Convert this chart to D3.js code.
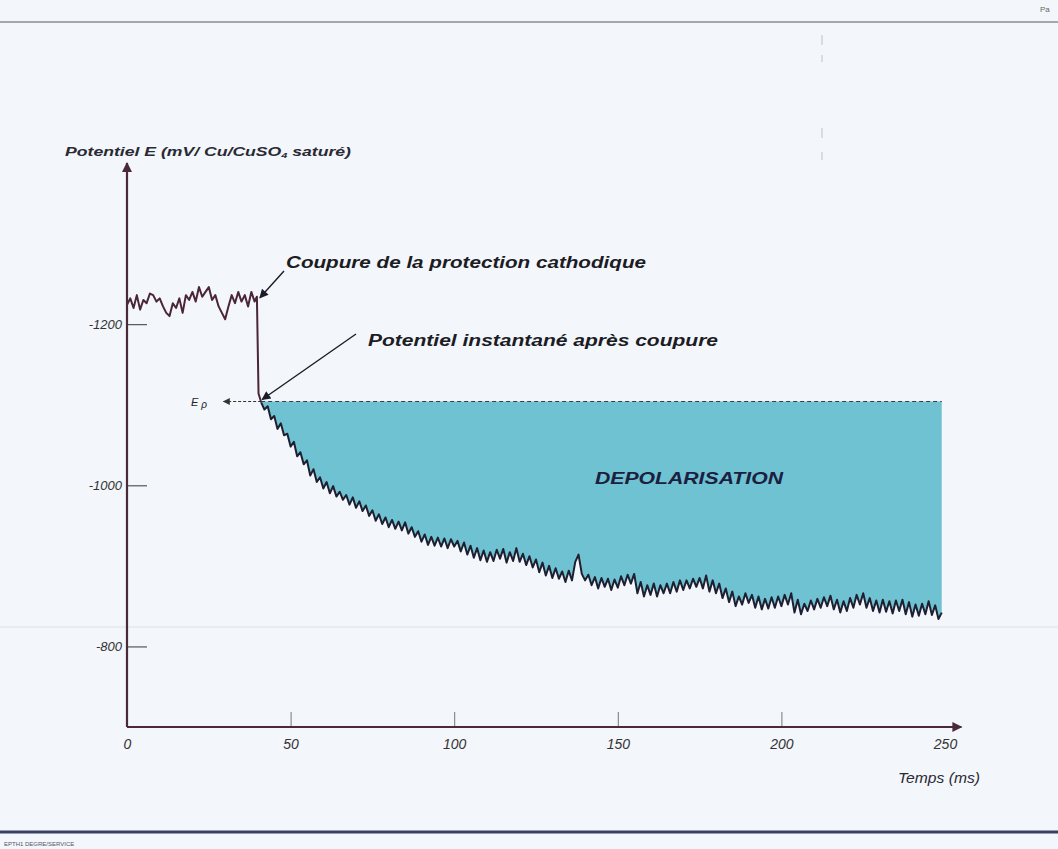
<!DOCTYPE html>
<html><head><meta charset="utf-8">
<script src="https://cdn.jsdelivr.net/npm/d3@7"></script>
<style>
html,body{margin:0;padding:0;background:#f3f6fb;}
svg{display:block;}
text{font-family:"Liberation Sans",Arial,sans-serif;}
</style></head><body>
<svg id="c" width="1058" height="849"></svg>
<script>
// ---- data ----
const xTicks = [0, 50, 100, 150, 200, 250];
const yTicks = [-1200, -1000, -800];
const epLevel = -1104;           // instantaneous potential after cut-off (Ep)
const cutoffTime = 40;
const preCutoff = [
 [0,-1224],[1,-1232],[2,-1220],[3,-1236],[4,-1218],[5,-1230],[6,-1226],[7,-1238],[8,-1236],[9,-1228],
 [10,-1232],[11,-1222],[12,-1214],[13,-1210],[14,-1226],[15,-1220],[16,-1232],[17,-1214],[18,-1236],[19,-1230],
 [20,-1240],[21,-1228],[22,-1246],[23,-1234],[24,-1240],[25,-1246],[26,-1230],[27,-1236],[28,-1222],[29,-1214],
 [30,-1206],[31,-1222],[32,-1236],[33,-1226],[34,-1240],[35,-1228],[36,-1236],[37,-1222],[38,-1240],[39,-1228],
 [39.7,-1234],[40.2,-1114],[41,-1103]
];
const decay = [
 [41,-1103],[42,-1094],[43,-1098],[44,-1082],[45,-1086],[46,-1070],[47,-1077],[48,-1062],[49,-1064],[50,-1048],
 [51,-1054],[52,-1036],[53,-1041],[54,-1026],[55,-1031],[56,-1012],[57,-1020],[58,-1004],[59,-1010],[60,-996],
 [61,-1004],[62,-990],[63,-999],[64,-986],[65,-992],[66,-982],[67,-988],[68,-976],[69,-985],[70,-972],
 [71,-980],[72,-968],[73,-975],[74,-962],[75,-969],[76,-956],[77,-964],[78,-952],[79,-960],[80,-948],
 [81,-957],[82,-946],[83,-955],[84,-944],[85,-954],[86,-940],[87,-948],[88,-936],[89,-943],[90,-930],
 [91,-939],[92,-926],[93,-936],[94,-925],[95,-935],[96,-924],[97,-934],[98,-922],[99,-933],[100,-924],
 [101,-931],[102,-918],[103,-929],[104,-914],[105,-925],[106,-910],[107,-922],[108,-907],[109,-919],[110,-905],
 [111,-917],[112,-906],[113,-920],[114,-909],[115,-921],[116,-904],[117,-917],[118,-906],[119,-922],[120,-905],
 [121,-915],[122,-901],[123,-912],[124,-898],[125,-908],[126,-892],[127,-904],[128,-888],[129,-900],[130,-885],
 [131,-897],[132,-884],[133,-893],[134,-880],[135,-894],[136,-882],[137,-905],[138,-914],[139,-890],[140,-882],
 [141,-889],[142,-876],[143,-886],[144,-872],[145,-885],[146,-874],[147,-884],[148,-870],[149,-883],[150,-873],
 [151,-887],[152,-876],[153,-889],[154,-878],[155,-890],[156,-866],[157,-880],[158,-862],[159,-876],[160,-864],
 [161,-878],[162,-862],[163,-876],[164,-866],[165,-878],[166,-866],[167,-880],[168,-868],[169,-882],[170,-870],
 [171,-882],[172,-872],[173,-884],[174,-874],[175,-885],[176,-872],[177,-888],[178,-868],[179,-882],[180,-866],
 [181,-878],[182,-860],[183,-872],[184,-855],[185,-868],[186,-850],[187,-862],[188,-852],[189,-866],[190,-854],
 [191,-864],[192,-848],[193,-862],[194,-846],[195,-859],[196,-847],[197,-861],[198,-848],[199,-862],[200,-850],
 [201,-864],[202,-852],[203,-866],[204,-842],[205,-858],[206,-840],[207,-853],[208,-844],[209,-857],[210,-846],
 [211,-859],[212,-848],[213,-861],[214,-850],[215,-863],[216,-846],[217,-858],[218,-842],[219,-856],[220,-844],
 [221,-860],[222,-848],[223,-864],[224,-852],[225,-866],[226,-848],[227,-860],[228,-844],[229,-857],[230,-842],
 [231,-858],[232,-843],[233,-856],[234,-841],[235,-857],[236,-844],[237,-858],[238,-840],[239,-855],[240,-837],
 [241,-852],[242,-838],[243,-853],[244,-840],[245,-856],[246,-839],[247,-851],[248,-834],[249,-842]
];

// ---- drawing ----
const svg = d3.select("#c");
const x = d3.scaleLinear().domain([0, 250]).range([127, 945]);
const y = d3.scaleLinear().domain([-700, -1400]).range([727, 163]);
const axisColor = "#4a2a38";

// page decorations
svg.append("line").attr("x1",0).attr("x2",1058).attr("y1",22).attr("y2",22).attr("stroke","#8a8d96").attr("stroke-width",1.5);
svg.append("text").attr("x",1040).attr("y",12).attr("font-size",8).attr("fill","#666").text("Pa");
svg.append("line").attr("x1",0).attr("x2",1058).attr("y1",627).attr("y2",627).attr("stroke","#dde2ea").attr("stroke-width",1);
svg.append("line").attr("x1",0).attr("x2",1058).attr("y1",832).attr("y2",832).attr("stroke","#3a3f68").attr("stroke-width",3);
svg.append("text").attr("x",4).attr("y",846).attr("font-size",6).attr("fill","#556").text("EPTH1 DEGRE/SERVICE");
[[822,35,45],[822,55,62],[822,128,138],[822,152,160]].forEach(s=>{
  svg.append("line").attr("x1",s[0]).attr("x2",s[0]).attr("y1",s[1]).attr("y2",s[2]).attr("stroke","#cfd2da").attr("stroke-width",1.5);
});

const defs = svg.append("defs");
function marker(id, color, w, h){
  defs.append("marker").attr("id",id).attr("viewBox","0 0 10 10").attr("refX",9).attr("refY",5)
   .attr("markerWidth",w).attr("markerHeight",h).attr("orient","auto").attr("markerUnits","userSpaceOnUse")
   .append("path").attr("d","M0,0L10,5L0,10Z").attr("fill",color);
}
marker("axArrow", axisColor, 14, 10);
marker("annArrow", "#1c1c28", 12, 9);
marker("epArrow", "#333", 9, 7);

// depolarisation area
const area = d3.area().x(d=>x(d[0])).y0(y(epLevel)).y1(d=>y(d[1]));
svg.append("path").datum(decay).attr("d",area).attr("fill","#6fc2d1");

// Ep dashed line
svg.append("line").attr("x1",x(41)).attr("x2",x(249)).attr("y1",y(epLevel)).attr("y2",y(epLevel))
  .attr("stroke","#3a3a44").attr("stroke-width",1).attr("stroke-dasharray","4,3");
svg.append("line").attr("x1",x(41)).attr("x2",x(29.5)).attr("y1",y(epLevel)).attr("y2",y(epLevel))
  .attr("stroke","#333").attr("stroke-width",1.2).attr("stroke-dasharray","3,2").attr("marker-end","url(#epArrow)");
const epT = svg.append("text").attr("x",191).attr("y",y(epLevel)+5).attr("font-size",11).attr("font-style","italic").attr("fill","#222");
epT.append("tspan").text("E");
epT.append("tspan").attr("dx",3).attr("dy",2).attr("font-size",10).text("ρ");

// axes
const yAxis = d3.axisLeft(y).tickValues(yTicks).tickFormat(d=>String(d)).tickSize(0).tickPadding(5);
const gy = svg.append("g").attr("transform",`translate(${x(0)},0)`).call(yAxis);
gy.select(".domain").remove();
gy.selectAll("text").attr("font-size",13).attr("font-style","italic").attr("fill","#333").attr("font-family","Liberation Sans, Arial, sans-serif");
gy.selectAll(".tick").append("line").attr("x1",0).attr("x2",20).attr("stroke","#555").attr("stroke-width",1.2);

const xAxis = d3.axisBottom(x).tickValues(xTicks).tickFormat(d=>String(d)).tickSize(0).tickPadding(12);
const gx = svg.append("g").attr("transform",`translate(0,${y(-700)})`).call(xAxis);
gx.select(".domain").remove();
gx.selectAll("text").attr("font-size",14).attr("font-style","italic").attr("fill","#333").attr("font-family","Liberation Sans, Arial, sans-serif");
gx.selectAll(".tick").filter(d=>d>0 && d<250).append("line").attr("y1",0).attr("y2",-15).attr("stroke","#777").attr("stroke-width",1);

svg.append("line").attr("x1",x(0)).attr("x2",x(0)).attr("y1",y(-700)).attr("y2",y(-1400))
  .attr("stroke",axisColor).attr("stroke-width",2.2).attr("marker-end","url(#axArrow)");
svg.append("line").attr("x1",x(0)).attr("x2",x(255)).attr("y1",y(-700)).attr("y2",y(-700))
  .attr("stroke",axisColor).attr("stroke-width",2.2).attr("marker-end","url(#axArrow)");

// curves
const line = d3.line().x(d=>x(d[0])).y(d=>y(d[1]));
svg.append("path").datum(preCutoff).attr("d",line).attr("fill","none").attr("stroke","#4a2636").attr("stroke-width",2).attr("stroke-linejoin","round");
svg.append("path").datum(decay).attr("d",line).attr("fill","none").attr("stroke","#1e1f30").attr("stroke-width",2).attr("stroke-linejoin","round");

// labels
const yt = svg.append("text").attr("x",65).attr("y",156).attr("font-size",13).attr("font-style","italic").attr("font-weight","bold").attr("fill","#2a2a33")
  .attr("textLength",286).attr("lengthAdjust","spacingAndGlyphs");
yt.append("tspan").text("Potentiel E (mV/ Cu/CuSO");
yt.append("tspan").attr("font-size",8).attr("dy",2).text("4");
yt.append("tspan").attr("dy",-2).text(" saturé)");
svg.append("text").attr("x",898).attr("y",783).attr("font-size",14.5).attr("font-style","italic").attr("fill","#2a2a33")
  .attr("textLength",82).attr("lengthAdjust","spacingAndGlyphs").text("Temps (ms)");

svg.append("text").attr("x",286).attr("y",268).attr("font-size",17).attr("font-style","italic").attr("font-weight","bold").attr("fill","#1c1c24")
  .attr("textLength",360).attr("lengthAdjust","spacingAndGlyphs").text("Coupure de la protection cathodique");
svg.append("line").attr("x1",284).attr("y1",271).attr("x2",x(cutoffTime)+2).attr("y2",y(-1234)+1).attr("stroke","#1c1c28").attr("stroke-width",1.4).attr("marker-end","url(#annArrow)");

svg.append("text").attr("x",368).attr("y",346).attr("font-size",16).attr("font-style","italic").attr("font-weight","bold").attr("fill","#1c1c24")
  .attr("textLength",350).attr("lengthAdjust","spacingAndGlyphs").text("Potentiel instantané après coupure");
svg.append("line").attr("x1",356).attr("y1",334).attr("x2",x(41)+1).attr("y2",y(epLevel)-2).attr("stroke","#1c1c28").attr("stroke-width",1.4).attr("marker-end","url(#annArrow)");

svg.append("text").attr("x",595).attr("y",484).attr("font-size",16).attr("font-style","italic").attr("font-weight","bold").attr("fill","#1b2040")
  .attr("textLength",188).attr("lengthAdjust","spacingAndGlyphs").text("DEPOLARISATION");
</script>
</body></html>
